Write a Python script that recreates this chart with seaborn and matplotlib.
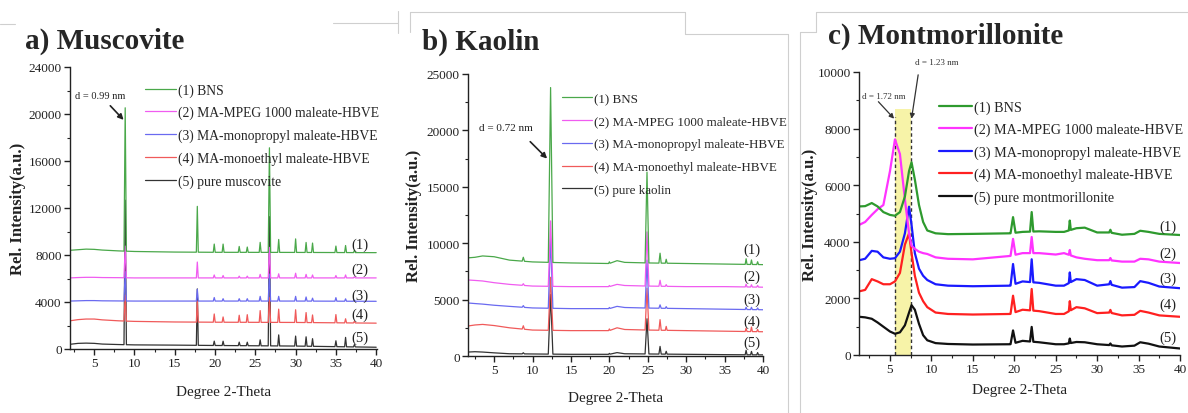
import numpy as np
import pandas as pd
import matplotlib
matplotlib.use("Agg")
import matplotlib.pyplot as plt
from matplotlib.lines import Line2D
import seaborn as sns

sns.set_theme(style="white")
plt.rcParams['font.family'] = ['Liberation Serif', 'DejaVu Serif']

# ---------------- data ----------------
series_labels_a = ["(1) BNS", "(2) MA-MPEG 1000 maleate-HBVE", "(3) MA-monopropyl maleate-HBVE",
                   "(4) MA-monoethyl maleate-HBVE", "(5) pure muscovite"]
series_labels_b = series_labels_a[:4] + ["(5) pure kaolin"]
series_labels_c = series_labels_a[:4] + ["(5) pure montmorillonite"]
curve_tags = ["(1)", "(2)", "(3)", "(4)", "(5)"]

# Panel a: muscovite
a_base_x = [2, 3, 4, 5, 6, 8, 10, 15, 20, 30, 40]
a_base_green = [8400, 8450, 8500, 8480, 8420, 8350, 8300, 8250, 8230, 8220, 8200]
a_base_pink = [6050, 6080, 6100, 6100, 6080, 6070, 6050, 6050, 6050, 6050, 6050]
a_base_blue = [4080, 4100, 4120, 4120, 4100, 4090, 4080, 4080, 4080, 4080, 4060]
a_base_red = [2400, 2500, 2550, 2550, 2480, 2400, 2350, 2300, 2280, 2260, 2200]
a_base_black = [400, 480, 500, 480, 420, 380, 350, 330, 300, 250, 150]
a_peaks = [8.85, 17.8, 19.9, 21.0, 23.0, 24.0, 25.6, 26.75, 27.9, 30.0, 31.3, 32.1, 35.0, 36.2, 37.3]
a_widths = [0.15, 0.12, 0.12, 0.12, 0.12, 0.12, 0.12, 0.15, 0.12, 0.12, 0.12, 0.12, 0.12, 0.12, 0.12]
a_h_green = [12200, 3900, 700, 700, 500, 450, 850, 8900, 1100, 1150, 850, 800, 550, 600, 200]
a_h_pink = [2700, 1350, 250, 200, 150, 150, 300, 2600, 350, 400, 300, 250, 200, 250, 100]
a_h_blue = [2500, 1000, 300, 200, 200, 200, 400, 2300, 400, 400, 350, 250, 300, 200, 100]
a_h_red = [2200, 1800, 700, 450, 600, 650, 1000, 2100, 1130, 1080, 850, 650, 700, 350, 150]
a_h_black = [12300, 4800, 370, 370, 300, 300, 510, 11000, 940, 850, 800, 650, 500, 800, 200]
a_tag_y = [8935, 6810, 4600, 2980, 1020]

# Panel b: kaolin
b_base_x = [1.6, 2.5, 3.5, 5, 7, 10, 15, 20, 21, 22, 25, 30, 35, 40]
b_base_green = [8700, 8750, 8870, 8800, 8500, 8340, 8250, 8200, 8450, 8300, 8250, 8200, 8150, 8100]
b_base_pink = [6740, 6700, 6650, 6500, 6350, 6200, 6150, 6150, 6350, 6250, 6200, 6150, 6150, 6100]
b_base_blue = [4700, 4650, 4600, 4500, 4400, 4260, 4200, 4200, 4400, 4300, 4250, 4200, 4150, 4100]
b_base_red = [2660, 2750, 2800, 2700, 2500, 2300, 2250, 2250, 2500, 2350, 2300, 2250, 2200, 2150]
b_base_black = [350, 380, 350, 280, 200, 180, 150, 150, 300, 200, 180, 150, 120, 100]
b_peaks = [8.8, 12.35, 20.0, 24.9, 26.6, 27.4, 37.8, 38.5, 39.3]
b_widths = [0.15, 0.3, 0.1, 0.25, 0.15, 0.12, 0.12, 0.12, 0.12]
b_h_green = [350, 15500, 150, 8050, 880, 350, 500, 400, 250]
b_h_pink = [150, 5800, 100, 4800, 530, 150, 250, 200, 150]
b_h_blue = [150, 6200, 100, 4250, 300, 150, 200, 200, 150]
b_h_red = [300, 4700, 150, 3700, 940, 350, 300, 400, 200]
b_h_black = [100, 5300, 80, 3120, 680, 250, 400, 300, 200]
b_tag_y = [9490, 7100, 5060, 3100, 1240]

# Panel c: montmorillonite
c_base_x = [1.3, 2, 2.8, 3.5, 4.2, 5.0, 5.6, 6.2, 6.8, 7.3, 7.6, 8.0, 8.5, 9.0, 9.5, 10.5, 12, 15,
            19.5, 21, 23, 25, 26, 27.5, 28.5, 30, 31.5, 33, 34.5, 35.2, 36.2, 37.5, 40]
c_base_green = [5250, 5260, 5370, 5250, 5050, 4950, 4920, 5050, 5600, 6500, 6810, 6200, 5300, 4700, 4400, 4300,
                4270, 4280, 4300, 4350, 4370, 4350, 4350, 4480, 4500, 4330, 4330, 4250, 4280, 4390, 4350, 4280, 4240]
c_base_pink = [4600, 4700, 4950, 5150, 5300, 6500, 7620, 7100, 5500, 4300, 3860, 3750, 3650, 3600, 3570, 3450,
               3400, 3380, 3500, 3600, 3600, 3550, 3600, 3450, 3400, 3350, 3350, 3300, 3300, 3400, 3380, 3300, 3250]
c_base_blue = [3350, 3400, 3680, 3650, 3450, 3400, 3420, 3650, 4300, 5240, 4600, 3600, 3050, 2800, 2650, 2500,
               2450, 2430, 2450, 2600, 2550, 2450, 2450, 2680, 2650, 2450, 2500, 2380, 2400, 2610, 2550, 2420, 2360]
c_base_red = [2250, 2300, 2680, 2600, 2500, 2500, 2600, 2900, 3900, 4300, 3600, 2800, 2200, 1900, 1690, 1500,
              1450, 1430, 1450, 1600, 1550, 1450, 1450, 1690, 1650, 1480, 1500, 1400, 1420, 1560, 1500, 1400, 1350]
c_base_black = [1350, 1330, 1280, 1150, 1000, 830, 750, 800, 1050, 1500, 1760, 1600, 1100, 700, 520, 420,
                390, 370, 380, 500, 450, 380, 380, 460, 450, 380, 350, 300, 330, 450, 400, 300, 230]
c_peaks = [19.85, 22.1, 26.7, 31.6]
c_widths = [0.3, 0.2, 0.12, 0.15]
c_h_green = [560, 690, 340, 100]
c_h_pink = [580, 570, 180, 80]
c_h_blue = [730, 810, 360, 120]
c_h_red = [610, 760, 340, 100]
c_h_black = [460, 520, 165, 60]
c_tag_y = [4550, 3600, 2720, 1800, 635]
c_dlines = [5.6, 7.5]

# ---------------- helpers ----------------
def build_curve(bx, by, peaks, widths, heights):
    bx = np.asarray(bx, float); by = np.asarray(by, float)
    keep = np.ones(len(bx), bool)
    for p, w in zip(peaks, widths):
        keep &= ~((bx > p - w) & (bx < p + w))
    xs = list(bx[keep]); ys = list(by[keep])
    for p, w, h in zip(peaks, widths, heights):
        for xx, add in ((p - w, 0.0), (p, h), (p + w, 0.0)):
            xs.append(xx); ys.append(np.interp(xx, bx, by) + add)
    order = np.argsort(xs)
    return pd.DataFrame({"x": np.asarray(xs)[order], "y": np.asarray(ys)[order]})

cols_ab = ["#4aa84a", "#f05cf0", "#6a6af0", "#f05a5a", "#333333"]
cols_c = ["#2e9a2e", "#ff33ff", "#1a1aff", "#ff2020", "#111111"]

W, H = 1188, 414
fig = plt.figure(figsize=(W / 100, H / 100), dpi=100)
fig.patch.set_facecolor("white")

def px_axes(l, t, r, b):
    return fig.add_axes([l / W, 1 - b / H, (r - l) / W, (b - t) / H])

def style_axes(ax, xlim, ylim, ymaj, ymin, lw_sp=1.0):
    ax.set_xlim(*xlim); ax.set_ylim(*ylim)
    ax.set_xticks(np.arange(5, 41, 5))
    ax.set_xticks(np.arange(2.5, 40.1, 2.5), minor=True)
    ax.set_yticks(np.arange(ylim[0], ylim[1] + 1, ymaj))
    ax.set_yticks(np.arange(ylim[0], ylim[1] + 1, ymin), minor=True)
    for s in ["top", "right"]:
        ax.spines[s].set_visible(False)
    for s in ["left", "bottom"]:
        ax.spines[s].set_color("#222222"); ax.spines[s].set_linewidth(lw_sp)
    ax.tick_params(which="major", direction="out", length=4, width=1, colors="#222222",
                   labelsize=9.5, left=True, bottom=True, pad=2)
    ax.tick_params(which="minor", direction="out", length=2.5, width=0.8, colors="#222222",
                   left=True, bottom=True)
    ax.set_facecolor("white")

def draw_panel(ax, bx, bases, peaks, widths, heights, colors, lw):
    handles = [None] * 5
    for i in [4, 3, 2, 1, 0]:
        df = build_curve(bx, bases[i], peaks, widths, heights[i])
        sns.lineplot(data=df, x="x", y="y", ax=ax, color=colors[i], lw=lw,
                     sort=False, estimator=None, legend=False)
        handles[i] = Line2D([], [], color=colors[i], lw=lw)
    return handles

arrow_kw = dict(arrowstyle="-|>", color="#222222", lw=1.2, mutation_scale=8, shrinkA=0, shrinkB=0)

# ---------- panel a ----------
axa = px_axes(70, 68, 377, 350)
ha = draw_panel(axa, a_base_x, [a_base_green, a_base_pink, a_base_blue, a_base_red, a_base_black],
                a_peaks, a_widths, [a_h_green, a_h_pink, a_h_blue, a_h_red, a_h_black], cols_ab, 0.9)
style_axes(axa, (2, 40.1), (0, 24000), 4000, 2000)
axa.legend(ha, series_labels_a, loc="upper left", bbox_to_anchor=(0.244, 0.943), frameon=False,
           fontsize=9.8, handlelength=2.3, handletextpad=0.15, labelspacing=0.68, borderaxespad=0, borderpad=0)
axa.annotate("", xy=(8.65, 19500), xytext=(7.0, 20700), arrowprops=arrow_kw)
axa.text(2.6, 21600, "d = 0.99 nm", fontsize=7.5, va="center", ha="left", color="#222222")
for t, yv in zip(curve_tags, a_tag_y):
    axa.text(38.0, yv, t, fontsize=10.5, ha="center", va="center", color="#222222")

# ---------- panel b ----------
axb = px_axes(468, 75, 763, 357)
hb = draw_panel(axb, b_base_x, [b_base_green, b_base_pink, b_base_blue, b_base_red, b_base_black],
                b_peaks, b_widths, [b_h_green, b_h_pink, b_h_blue, b_h_red, b_h_black], cols_ab, 0.9)
style_axes(axb, (1.6, 40), (0, 25000), 5000, 2500)
axb.legend(hb, series_labels_b, loc="upper left", bbox_to_anchor=(0.32, 0.933), frameon=False,
           fontsize=9.4, handlelength=2.3, handletextpad=0.15, labelspacing=0.81, borderaxespad=0, borderpad=0)
axb.annotate("", xy=(11.9, 17500), xytext=(9.7, 19000), arrowprops=arrow_kw)
axb.text(3.0, 20300, "d = 0.72 nm", fontsize=8, va="center", ha="left", color="#222222")
for t, yv in zip(curve_tags, b_tag_y):
    axb.text(38.6, yv, t, fontsize=10.5, ha="center", va="center", color="#222222")

# ---------- panel c ----------
axc = px_axes(859, 73, 1180, 356)
axc.axvspan(c_dlines[0], c_dlines[1], ymin=0, ymax=0.87, color="#f7f3a8", lw=0, zorder=0)
for xv in c_dlines:
    axc.plot([xv, xv], [0, 8400], ls=(0, (2.5, 2)), color="#333333", lw=1.0, zorder=1)
hc = draw_panel(axc, c_base_x, [c_base_green, c_base_pink, c_base_blue, c_base_red, c_base_black],
                c_peaks, c_widths, [c_h_green, c_h_pink, c_h_blue, c_h_red, c_h_black], cols_c, 1.6)
style_axes(axc, (1.26, 40), (0, 10000), 2000, 1000)
axc.legend(hc, series_labels_c, loc="upper left", bbox_to_anchor=(0.25, 0.90), frameon=False,
           fontsize=10.2, handlelength=2.3, handletextpad=0.15, labelspacing=0.64, borderaxespad=0, borderpad=0)
arrow_kw_c = dict(arrowstyle="-|>", color="#333333", lw=0.9, mutation_scale=7, shrinkA=0, shrinkB=0)
axc.annotate("", xy=(5.5, 8350), xytext=(3.6, 8950), arrowprops=arrow_kw_c)
axc.annotate("", xy=(7.6, 8350), xytext=(8.4, 9900), arrowprops=arrow_kw_c, annotation_clip=False)
axc.text(1.6, 9150, "d = 1.72 nm", fontsize=6.5, va="center", ha="left", color="#333333")
axc.text(8.0, 10350, "d = 1.23 nm", fontsize=6.5, va="center", ha="left", color="#333333", clip_on=False)
for t, yv in zip(curve_tags, c_tag_y):
    axc.text(38.5, yv, t, fontsize=10.5, ha="center", va="center", color="#222222")

# axis labels
for ax, lx, ly in [(axa, -44 / 307, -36 / 282), (axb, -46 / 295, -35 / 282), (axc, -41 / 321, -28 / 283)]:
    ax.set_ylabel("Rel. Intensity(a.u.)", fontsize=12, fontweight="bold", color="#222222")
    ax.set_xlabel("Degree 2-Theta", fontsize=11, color="#222222")
    ax.yaxis.set_label_coords(lx, 0.5)
    ax.xaxis.set_label_coords(0.5, ly)

# titles
fig.text(25 / W, 1 - 49 / H, "a) Muscovite", fontsize=21, fontweight="bold", va="baseline", ha="left")
fig.text(422 / W, 1 - 50 / H, "b) Kaolin", fontsize=21, fontweight="bold", va="baseline", ha="left")
fig.text(828 / W, 1 - 44 / H, "c) Montmorillonite", fontsize=21, fontweight="bold", va="baseline", ha="left")

# faint frame fragments of the pasted panels
frame_segments = [((0, 25), (15, 25)), ((333, 24), (398, 24)), ((398, 12), (398, 34)),
                  ((410, 13), (685, 13)), ((410, 13), (410, 33)), ((685, 13), (685, 35)),
                  ((685, 35), (788, 35)), ((788, 35), (788, 414)), ((800, 33), (800, 414)),
                  ((800, 33), (816, 33)), ((816, 13), (816, 33)), ((816, 13), (1188, 13))]
for (x0, y0), (x1, y1) in frame_segments:
    fig.add_artist(Line2D([x0 / W, x1 / W], [1 - y0 / H, 1 - y1 / H], color="#cfcfcf", lw=0.8))

fig.savefig("out.png", dpi=100, facecolor="white")
